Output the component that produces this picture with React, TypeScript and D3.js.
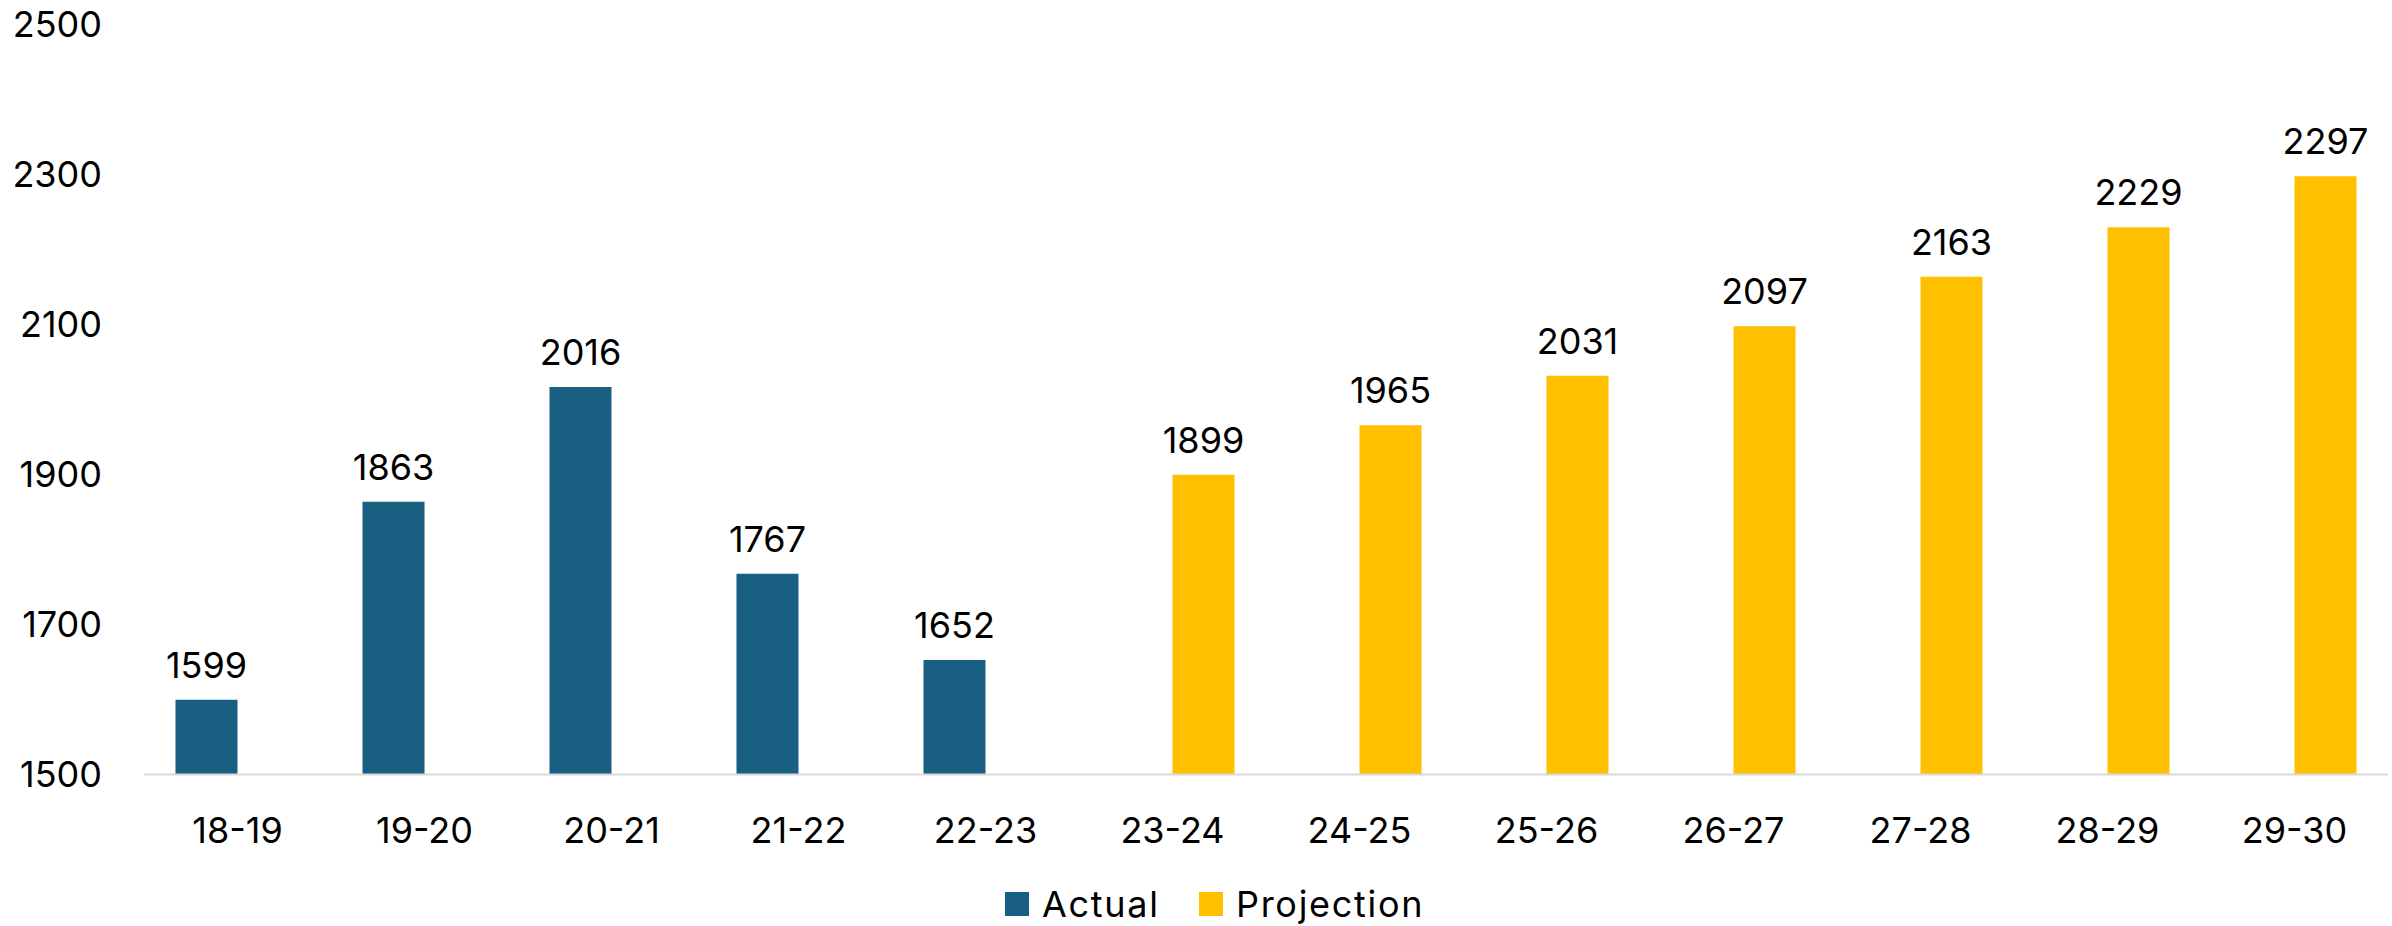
import React, { useEffect, useRef } from 'react'
import * as d3 from 'd3'

const categories = ['18-19', '19-20', '20-21', '21-22', '22-23', '23-24', '24-25', '25-26', '26-27', '27-28', '28-29', '29-30']
const actual = [1599, 1863, 2016, 1767, 1652, null, null, null, null, null, null, null]
const projection = [null, null, null, null, null, 1899, 1965, 2031, 2097, 2163, 2229, 2297]
const yTicks = [1500, 1700, 1900, 2100, 2300, 2500]
const seriesNames = ['Actual', 'Projection']
const colors = ['#185F82', '#FFC000']

const FONT = 'Inter, "Liberation Sans", Arial, sans-serif'

export default function App() {
  const ref = useRef<SVGSVGElement>(null)

  useEffect(() => {
    if (!ref.current) return
    const svg = d3.select(ref.current)
    svg.selectAll('*').remove()

    const width = 2392
    const height = 926
    const margin = { top: 24, right: 4, bottom: 152, left: 144 }
    const innerW = width - margin.left - margin.right
    const innerH = height - margin.top - margin.bottom

    const x = d3.scaleBand().domain(categories).range([0, innerW]).paddingInner(0).paddingOuter(0)
    // clustered bars: gap width ~50%
    const x1 = d3.scaleBand().domain(seriesNames).range([0, x.bandwidth()]).paddingOuter(0.508).paddingInner(0)
    const y = d3.scaleLinear().domain([1500, 2500]).range([innerH, 0])

    const g = svg.append('g').attr('transform', `translate(${margin.left},${margin.top})`)

    // y labels (no axis line, no gridlines)
    g.append('g')
      .selectAll('text')
      .data(yTicks)
      .enter()
      .append('text')
      .attr('x', -42)
      .attr('y', (d) => y(d))
      .attr('dy', '0.35em')
      .attr('text-anchor', 'end')
      .attr('font-family', FONT)
      .attr('font-size', 36)
      .attr('fill', '#000')
      .text((d) => d)

    const series = [actual, projection]
    series.forEach((vals, si) => {
      const items = categories
        .map((c, i) => ({ c, v: vals[i] }))
        .filter((d) => d.v != null) as { c: string; v: number }[]
      g.selectAll(`.bar-${si}`)
        .data(items)
        .enter()
        .append('rect')
        .attr('x', (d) => x(d.c)! + x1(seriesNames[si])!)
        .attr('y', (d) => y(d.v))
        .attr('width', x1.bandwidth())
        .attr('height', (d) => innerH - y(d.v))
        .attr('fill', colors[si])
      g.selectAll(`.lab-${si}`)
        .data(items)
        .enter()
        .append('text')
        .attr('x', (d) => x(d.c)! + x1(seriesNames[si])! + x1.bandwidth() / 2)
        .attr('y', (d) => y(d.v) - 22)
        .attr('text-anchor', 'middle')
        .attr('font-family', FONT)
        .attr('font-size', 36)
        .attr('fill', '#000')
        .text((d) => d.v)
    })

    // x axis
    g.append('line')
      .attr('x1', 0)
      .attr('x2', innerW)
      .attr('y1', innerH + 0.5)
      .attr('y2', innerH + 0.5)
      .attr('stroke', '#D9D9D9')
      .attr('stroke-width', 2)

    g.append('g')
      .selectAll('text')
      .data(categories)
      .enter()
      .append('text')
      .attr('x', (d) => x(d)! + x.bandwidth() / 2)
      .attr('y', innerH + 56)
      .attr('dy', '0.35em')
      .attr('text-anchor', 'middle')
      .attr('font-family', FONT)
      .attr('font-size', 36)
      .attr('fill', '#000')
      .text((d) => d)

    // legend
    const legend = svg.append('g').attr('transform', 'translate(1005,904)')
    const offsets = [0, 194]
    seriesNames.forEach((name, i) => {
      const lg = legend.append('g').attr('transform', `translate(${offsets[i]},0)`)
      lg.append('rect').attr('x', 0).attr('y', -12).attr('width', 24).attr('height', 24).attr('fill', colors[i])
      lg.append('text')
        .attr('x', 37)
        .attr('y', 0)
        .attr('dy', '0.35em')
        .attr('font-family', FONT)
        .attr('font-size', 36)
        .attr('letter-spacing', 1.7)
        .attr('fill', '#000')
        .text(name)
    })
  }, [])

  return (
    <svg
      ref={ref}
      width={2392}
      height={926}
      style={{ position: 'absolute', left: 0, top: 0, background: '#fff' }}
    />
  )
}
